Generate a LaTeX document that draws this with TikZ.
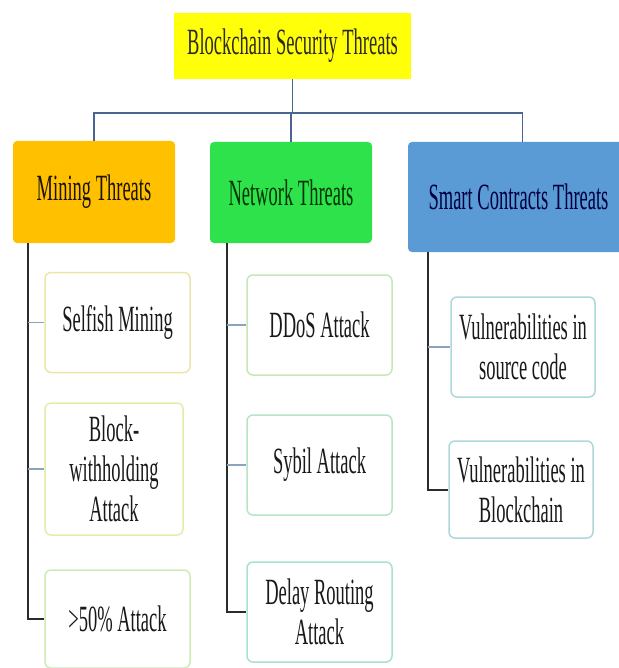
\documentclass[tikz,border=0pt]{standalone}
\usepackage{fontspec}
\setmainfont{Liberation Serif}[FakeStretch=0.5]
\usetikzlibrary{calc}

\definecolor{rootfill}{HTML}{FFFF0A}
\definecolor{minefill}{HTML}{FFC000}
\definecolor{netfill}{HTML}{2EE24C}
\definecolor{scfill}{HTML}{5B9BD5}
\definecolor{busline}{HTML}{4A6591}
\definecolor{trunkline}{HTML}{2B2B2B}
\definecolor{twigline}{HTML}{8AA4BE}
% pale rims of the leaf boxes, yellow through teal
\definecolor{rimA}{HTML}{ECE6A6}
\definecolor{rimB}{HTML}{E2EDAA}
\definecolor{rimC}{HTML}{CDEBB5}
\definecolor{rimD}{HTML}{C5E8B5}
\definecolor{rimE}{HTML}{B5E5C5}
\definecolor{rimF}{HTML}{A8E0D4}
\definecolor{rimG}{HTML}{ACD8DD}

\begin{document}
\begin{tikzpicture}[x=1pt,y=-1pt,
  head/.style={rectangle,rounded corners=4pt,inner sep=0pt,align=center,
    font=\fontsize{37}{40}\selectfont},
  leaf/.style={draw=#1,rectangle,rounded corners=6pt,line width=1.5pt,fill=white,
    minimum width=145pt,minimum height=100pt,inner sep=0pt,align=center,
    text=black!90,font=\fontsize{37}{40}\selectfont},
  bus/.style={draw=busline,line width=1.3pt},
  trunk/.style={draw=trunkline,line width=2pt},
  twig/.style={draw=twigline,line width=1.4pt}]
  \useasboundingbox (0,0) rectangle (618,668);

  \node[head,rounded corners=0pt,fill=rootfill,text=black!90!olive,minimum width=237pt,minimum height=66pt] (T0) at (292.5,46) {Blockchain Security Threats};
  \node[head,fill=minefill,text=black!85!brown,minimum width=162pt,minimum height=102pt] (M) at (94,192) {Mining Threats};
  \node[head,fill=netfill,text=black!80!green,minimum width=162pt,minimum height=101pt] (N) at (291,192.5) {Network Threats};
  \node[head,fill=scfill,text=black!75!blue,minimum width=221pt,minimum height=110pt] (S) at (518.5,197) {Smart Contracts Threats};

  \node[leaf=rimA] (M1) at (117.5,322.5) {Selfish Mining};
  \node[leaf=rimB,minimum width=138pt,minimum height=132pt] (M2) at (114,469) {Block-\\withholding\\Attack};
  \node[leaf=rimC,minimum height=98pt] (M3) at (117.5,619) {>50\% Attack};
  \node[leaf=rimD] (N1) at (319.5,325) {DDoS Attack};
  \node[leaf=rimE] (N2) at (319.5,465) {Sybil Attack};
  \node[leaf=rimF] (N3) at (319.5,612) {Delay Routing\\Attack};
  \node[leaf=rimG,minimum width=144pt] (S1) at (523,347) {Vulnerabilities in\\source code};
  \node[leaf=rimG,minimum width=144pt,minimum height=97pt] (S2) at (521,489.5) {Vulnerabilities in\\Blockchain};

  % bus from the root to the three groups
  \coordinate (B0) at (292.5,113);
  \path[bus] (T0) -- (B0);
  \path[bus] (B0) -| (M.north) (B0) -| (N.north) (B0) -| ([xshift=4pt]S.north);

  % trunks down each group, elbow into the last box
  \path[trunk] ([xshift=15pt]M.south west) |- (M3.west);
  \path[trunk] ([xshift=17pt]N.south west) |- (N3.west);
  \path[trunk] ([xshift=20pt]S.south west) |- (S2.west);
  \path[twig] ([xshift=15pt]M.south west |- M1.west) -- (M1.west);
  \path[twig] ([xshift=15pt]M.south west |- M2.west) -- (M2.west);
  \path[twig] ([xshift=17pt]N.south west |- N1.west) -- (N1.west);
  \path[twig] ([xshift=17pt]N.south west |- N2.west) -- (N2.west);
  \path[twig] ([xshift=20pt]S.south west |- S1.west) -- (S1.west);
\end{tikzpicture}
\end{document}
